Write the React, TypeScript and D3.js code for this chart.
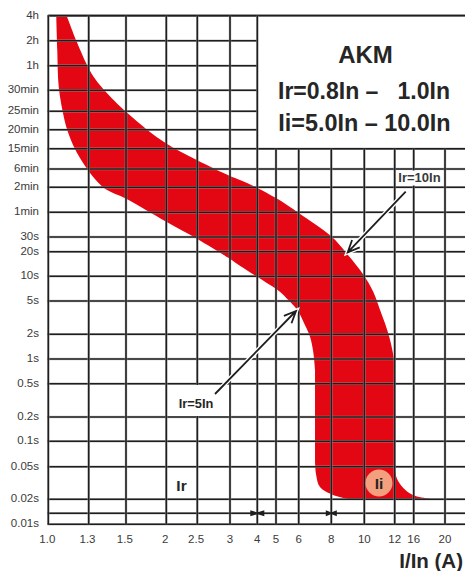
import React from "react";
import * as d3 from "d3";

const xTickValues = [1, 1.3, 1.5, 2, 2.5, 3, 4, 5, 6, 8, 10, 12, 16, 20];
const xTickLabels = ["1.0", "1.3", "1.5", "2", "2.5", "3", "4", "5", "6", "8", "10", "12", "16", "20"];
const yTickValues = [14400, 7200, 3600, 1800, 1500, 1200, 900, 360, 120, 60, 30, 20, 10, 5, 2, 1, 0.5, 0.2, 0.1, 0.05, 0.02, 0.014, 0.01];
const yTickLabels = ["4h", "2h", "1h", "30min", "25min", "20min", "15min", "6min", "2min", "1min", "30s", "20s", "10s", "5s", "2s", "1s", "0.5s", "0.2s", "0.1s", "0.05s", "0.02s", "", "0.01s"];

const upperEdge: [number, number][] = [
  [1.127, 14400], [1.203, 7003], [1.286, 3670], [1.322, 2694], [1.378, 1830], [1.5, 1490], [1.744, 1200],
  [2.006, 971], [2.49, 540], [3, 236], [3.33, 186], [4, 118], [5, 89], [6, 59], [8, 30.6], [8.87, 19.1], [9.95, 10.4],
  [10.55, 6.49], [11.07, 3.56], [11.55, 2.04], [11.9, 1.12], [12, 0.8],
];
const rightEdge: [number, number][] = [[12, 0.8], [12, 0.05]];
const tail: [number, number][] = [[12, 0.05], [12.37, 0.0364], [13.67, 0.0275], [15.8, 0.0226], [17.9, 0.0203], [18.4, 0.02]];
const foot: [number, number][] = [[9.08, 0.02], [8.09, 0.0226], [7.24, 0.0282], [7, 0.0396], [6.93, 0.0584]];
const leftEdge: [number, number][] = [[6.93, 0.0584], [6.93, 0.735]];
const lowerEdge: [number, number][] = [
  [6.93, 0.735], [6.82, 1.226], [6.63, 1.87], [6.34, 2.58], [6.03, 3.56], [5.87, 4.09], [5.52, 5.14], [5.16, 6.49],
  [4.66, 7.83], [4.13, 9.4], [3.33, 13.5], [3, 16.3], [2.5, 28.4], [2, 46], [1.495, 88.5], [1.395, 111], [1.344, 168],
  [1.302, 306], [1.255, 466], [1.189, 888], [1.131, 1195], [1.1, 1470], [1.079, 1702], [1.067, 2330], [1.06, 5580], [1.053, 14400],
];

const xRange = [48.3, 88.7, 126, 166.3, 197.3, 230, 257.3, 276, 298.7, 331.3, 364.3, 394.7, 413.7, 445];
const yRange = [15.7, 40.7, 65.7, 90.3, 111.3, 129.7, 148.7, 169, 187.3, 212.3, 237, 251.7, 276.3, 301, 334.3, 359, 383.7, 417, 441.3, 466.7, 499.3, 513.3, 524.3];

const x = d3.scaleLog().domain(xTickValues).range(xRange);
const y = d3.scaleLog().domain(yTickValues).range(yRange);

const smooth = d3.line<[number, number]>().x((d) => x(d[0])).y((d) => y(d[1])).curve(d3.curveCatmullRom.alpha(0.5));
const straight = d3.line<[number, number]>().x((d) => x(d[0])).y((d) => y(d[1]));
const join = (...parts: (string | null)[]) => parts.map((p, i) => (i === 0 ? p : (p || "").replace(/^M/, "L"))).join("");
const bandPath =
  join(smooth(upperEdge), straight(rightEdge), smooth(tail), straight(foot.slice(0, 1)), smooth(foot), straight(leftEdge), smooth(lowerEdge)) + "Z";

const INK = "#1e1e1e";
const HALO = "#a8a8a8";
const FONT = "'Liberation Sans', Arial, sans-serif";
const boxLeft = x(4);
const boxBottom = y(900);
const chartRight = 465;

function GridLine({ x1, x2, y1, y2, w = 1.6 }: { x1: number; x2: number; y1: number; y2: number; w?: number }) {
  return (
    <g>
      <line x1={x1} x2={x2} y1={y1} y2={y2} stroke={HALO} strokeWidth={w + 1} strokeOpacity={0.65} />
      <line x1={x1} x2={x2} y1={y1} y2={y2} stroke={INK} strokeWidth={w} />
    </g>
  );
}

function Arrow({ x1, y1, x2, y2 }: { x1: number; y1: number; x2: number; y2: number }) {
  const a = Math.atan2(y2 - y1, x2 - x1);
  const L = 13;
  const p1 = [x2 - L * Math.cos(a - 0.42), y2 - L * Math.sin(a - 0.42)];
  const p2 = [x2 - L * Math.cos(a + 0.42), y2 - L * Math.sin(a + 0.42)];
  const d = `M${x1},${y1}L${x2},${y2}M${p1[0]},${p1[1]}L${x2},${y2}L${p2[0]},${p2[1]}`;
  return (
    <g fill="none">
      <path d={d} stroke="#fff" strokeWidth={4.5} />
      <path d={d} stroke={INK} strokeWidth={1.8} />
    </g>
  );
}

function Bow({ cx, cy, w }: { cx: number; cy: number; w: number }) {
  return (
    <g fill={INK}>
      <path d={`M${cx - w},${cy - 3}L${cx - 0.5},${cy - 1}L${cx - 0.5},${cy + 1}L${cx - w},${cy + 3}Z`} />
      <path d={`M${cx + w},${cy - 3}L${cx + 0.5},${cy - 1}L${cx + 0.5},${cy + 1}L${cx + w},${cy + 3}Z`} />
    </g>
  );
}

export default function App() {
  return (
    <svg
      width={465}
      height={571}
      viewBox="0 0 465 571"
      style={{ position: "absolute", left: 0, top: 0, display: "block", background: "#fff" }}
    >
      <path d={bandPath} fill="#e30613" />

      {yTickValues.map((v) => (
        <GridLine key={v} x1={x(1) - 0.8} x2={chartRight} y1={y(v)} y2={y(v)} />
      ))}
      <rect x={boxLeft} y={y(14400)} width={chartRight - boxLeft} height={boxBottom - y(14400)} fill="#fff" />
      <GridLine x1={x(1)} x2={chartRight} y1={y(14400)} y2={y(14400)} w={1.7} />
      <GridLine x1={boxLeft} x2={chartRight} y1={boxBottom} y2={boxBottom} />
      {xTickValues.map((v) => (
        <GridLine key={v} x1={x(v)} x2={x(v)} y1={v > 4 ? boxBottom : y(14400)} y2={y(0.01)} />
      ))}

      {xTickValues.map((v, i) => (
        <text key={v} x={x(v) - (i === 0 ? 1 : i < 5 ? 1.2 : 0)} y={542.5} textAnchor="middle" fontFamily={FONT} fontSize={11.5} fill="#3a3a3a">
          {xTickLabels[i]}
        </text>
      ))}
      {yTickValues.map((v, i) => (
        <text key={v} x={39} y={y(v) + 3} textAnchor="end" fontFamily={FONT} fontSize={11.5} fill="#3a3a3a">
          {yTickLabels[i]}
        </text>
      ))}

      <g fontFamily={FONT} fontWeight="bold" fill="#262626" textAnchor="middle">
        <text x={365.5} y={62.7} fontSize={24}>AKM</text>
        <text x={364} y={98.7} fontSize={23} xmlSpace="preserve">{"Ir=0.8In –   1.0In"}</text>
        <text x={364.5} y={131} fontSize={23.4}>Ii=5.0In – 10.0In</text>
      </g>

      <rect x={397} y={170.5} width={45} height={15} fill="#fff" />
      <text x={419.5} y={181.7} textAnchor="middle" fontFamily={FONT} fontWeight="bold" fontSize={13} fill="#3a3a3a">Ir=10In</text>
      <Arrow x1={405.7} y1={191.7} x2={347.7} y2={252.3} />

      <rect x={168} y={385} width={61} height={31} fill="#fff" />
      <Arrow x1={215} y1={394} x2={296} y2={311} />
      <text x={196} y={407.7} textAnchor="middle" fontFamily={FONT} fontWeight="bold" fontSize={12.8} fill="#262626">Ir=5In</text>

      <text x={181.5} y={491} textAnchor="middle" fontFamily={FONT} fontWeight="bold" fontSize={15.5} fill="#262626">Ir</text>
      <circle cx={379} cy={483} r={13.5} fill="#f4a07e" />
      <text x={379} y={489} textAnchor="middle" fontFamily={FONT} fontWeight="bold" fontSize={15.5} fill="#262626">Ii</text>

      <Bow cx={x(4)} cy={y(0.014)} w={7} />
      <Bow cx={x(8)} cy={y(0.014)} w={5.5} />

      <text x={463} y={568} textAnchor="end" fontFamily={FONT} fontWeight="bold" fontSize={20.5} fill="#262626">I/In (A)</text>
    </svg>
  );
}
